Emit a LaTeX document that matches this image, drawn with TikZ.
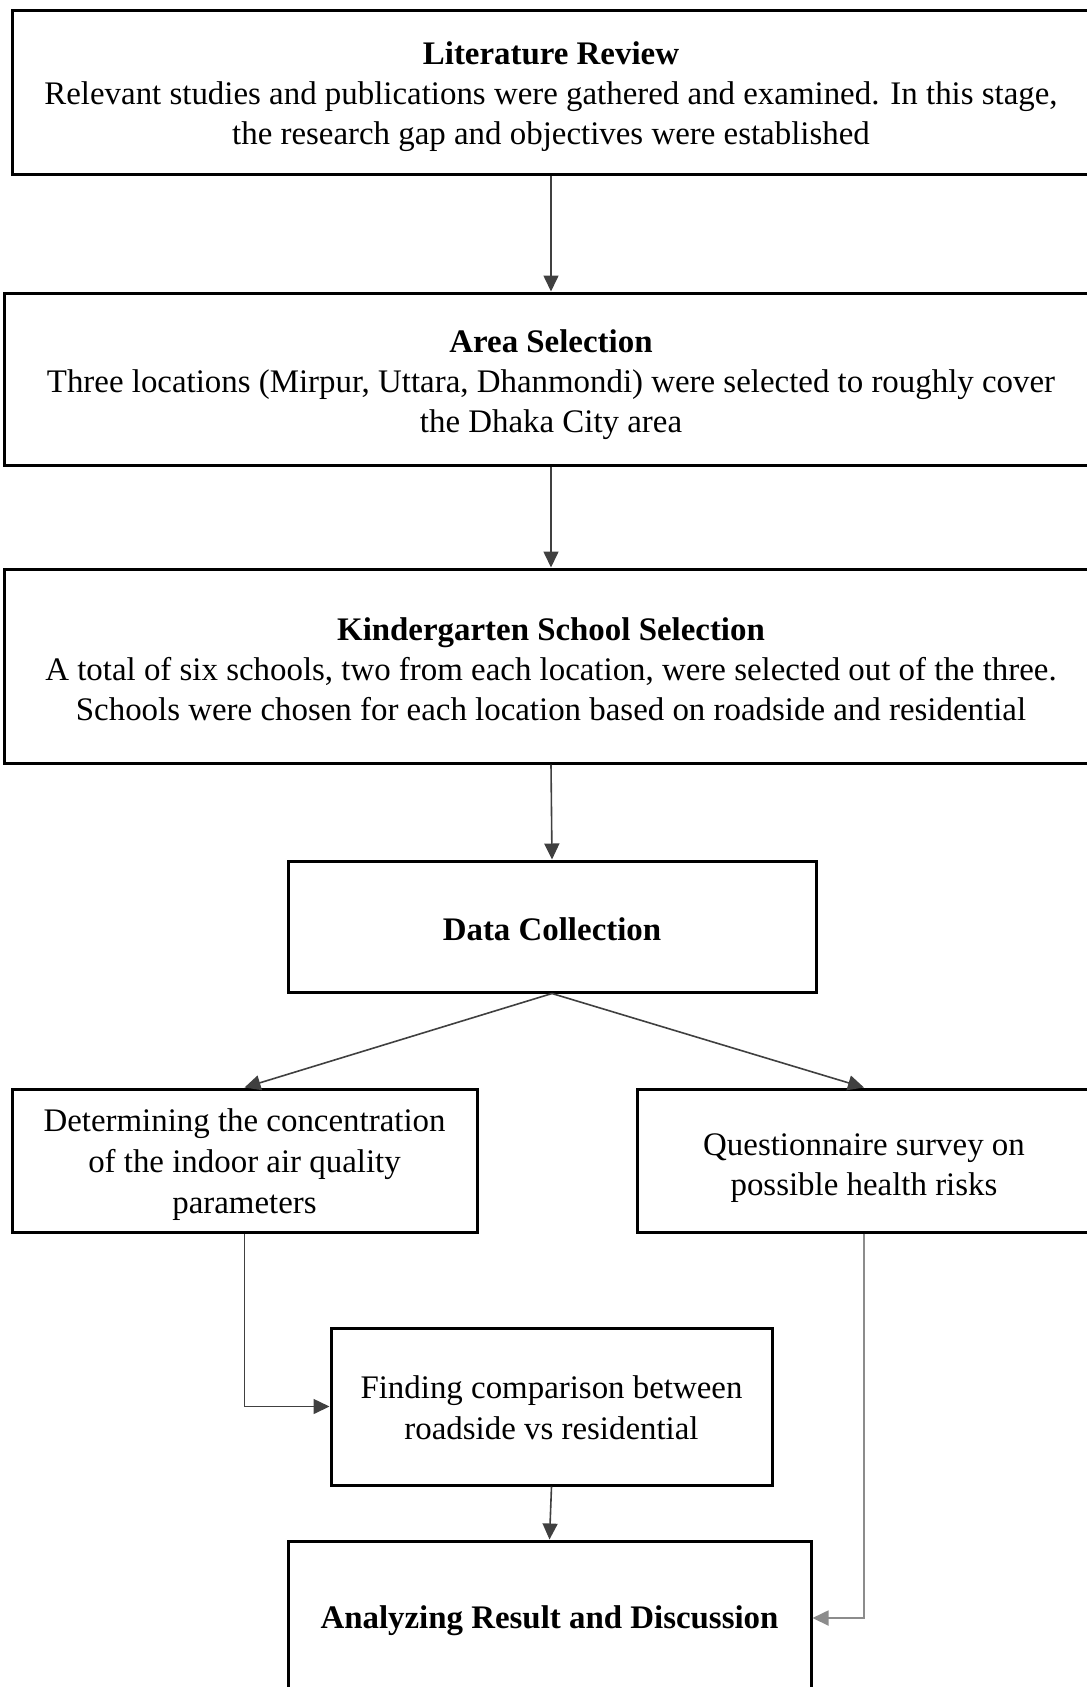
\documentclass[tikz,border=0pt]{standalone}
\usepackage{fontspec}
\setmainfont{Liberation Serif}
\usetikzlibrary{arrows.meta}
\newcommand\pushdown[1]{\rule{0pt}{#1}}
\begin{document}
\begin{tikzpicture}[x=0.5pt,y=-0.5pt,
  box/.style={draw=black,line width=1.5pt,rectangle,inner sep=0pt,align=center,
    font=\fontsize{16.45}{20}\selectfont},
  conn/.style={draw=black!75,line width=0.8pt,-{Triangle[length=8pt,width=7.5pt]}},
  connlight/.style={draw=black!45,line width=0.9pt,-{Triangle[length=8pt,width=7.5pt]}}]
\useasboundingbox (0,0) rectangle (1087,1687);
\clip (0,0) rectangle (1087,1687);
\node[box,minimum width=539pt,minimum height=82pt] (lit) at (551,92)
  {\pushdown{15.8pt}\textbf{Literature Review}\\Relevant studies and publications were gathered and examined. In this stage,\\the research gap and objectives were established};
\node[box,minimum width=547pt,minimum height=86pt] (area) at (551,379)
  {\pushdown{16.9pt}\textbf{Area Selection}\\Three locations (Mirpur, Uttara, Dhanmondi) were selected to roughly cover\\the Dhaka City area};
\node[box,minimum width=547pt,minimum height=97pt] (kg) at (551,666)
  {\pushdown{14.7pt}\textbf{Kindergarten School Selection}\\A total of six schools, two from each location, were selected out of the three.\\Schools were chosen for each location based on roadside and residential};
\node[box,minimum width=264pt,minimum height=65.5pt] (dc) at (552,926.5)
  {\pushdown{13.7pt}\textbf{Data Collection}};
\node[box,minimum width=232.5pt,minimum height=71.5pt,font=\fontsize{16.45}{20.5}\selectfont] (det) at (244.5,1160.5)
  {\pushdown{15.3pt}Determining the concentration\\of the indoor air quality\\parameters};
\node[box,minimum width=227pt,minimum height=71.5pt] (quest) at (864,1160.5)
  {\pushdown{18.5pt}Questionnaire survey on\\possible health risks};
\node[box,minimum width=220.5pt,minimum height=78.5pt,font=\fontsize{16.45}{20.5}\selectfont] (find) at (551.5,1406.5)
  {\pushdown{12.5pt}Finding comparison between\\roadside vs residential};
\node[box,minimum width=261.5pt,minimum height=77pt] (anal) at (549.5,1618)
  {\pushdown{13.7pt}\textbf{Analyzing Result and Discussion}};
\draw[conn] (lit.south) -- (area.north);
\draw[conn] (area.south) -- (kg.north);
\draw[conn] (kg.south) -- (dc.north);
\draw[conn] (dc.south) -- (det.north);
\draw[conn] (dc.south) -- (quest.north);
\draw[conn] (det.south) |- (find.west);
\draw[conn] (find.south) -- (anal.north);
\draw[connlight] (quest.south) |- (anal.east);
\end{tikzpicture}
\end{document}
